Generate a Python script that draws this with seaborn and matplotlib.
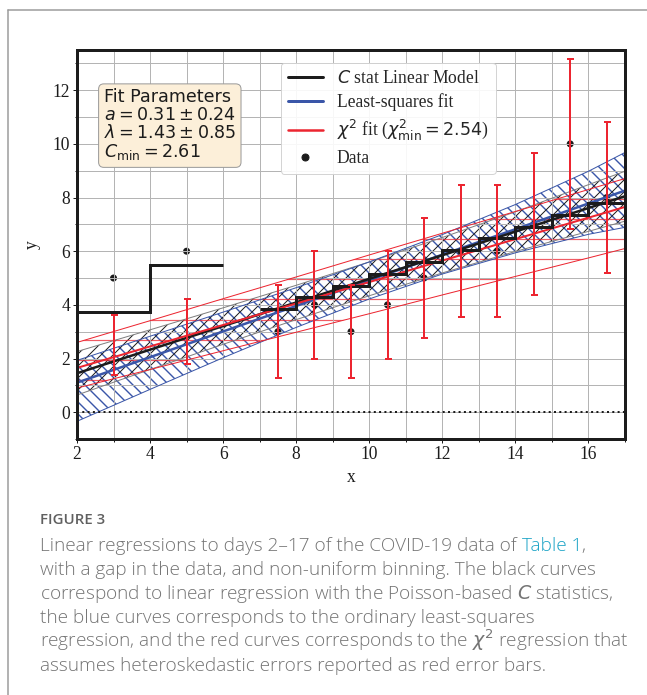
import numpy as np
import pandas as pd
import matplotlib.pyplot as plt
import seaborn as sns
from matplotlib.ticker import MultipleLocator

sns.set_theme(style="whitegrid")
plt.rcParams['font.family'] = ['Liberation Serif', 'DejaVu Serif']
plt.rcParams['mathtext.fontset'] = 'dejavusans'

# --------------------------------------------
# Data
# --------------------------------------------
bin_center = [3, 5, 7.5, 8.5, 9.5, 10.5, 11.5, 12.5, 13.5, 14.5, 15.5, 16.5]
counts = [5, 6, 3, 4, 3, 4, 5, 6, 6, 7, 10, 8]
# rates used by the chi2 fit, with their error bars
rate = [2.5, 3, 3, 4, 3, 4, 5, 6, 6, 7, 10, 8]
rate_err = [1.12, 1.22, 1.73, 2.0, 1.73, 2.0, 2.24, 2.45, 2.45, 2.65, 3.16, 2.83]

# C stat model, counts per bin (two groups: wide bins, then unit bins)
edges_wide = [2, 4, 6]
model_wide = [3.72, 5.48]
edges_unit = [7, 8, 9, 10, 11, 12, 13, 14, 15, 16, 17]
model_unit = [3.84, 4.28, 4.72, 5.16, 5.60, 6.04, 6.48, 6.92, 7.36, 7.80]

# fitted lines and their bands
xg = [2, 4, 6, 8, 10, 12, 14, 16, 17]
cstat_mid = [1.45, 2.33, 3.21, 4.09, 4.97, 5.85, 6.73, 7.61, 8.05]
cstat_hi = [2.26, 3.07, 3.89, 4.73, 5.60, 6.51, 7.47, 8.48, 8.98]
cstat_lo = [0.64, 1.59, 2.53, 3.45, 4.34, 5.19, 5.99, 6.74, 7.12]

ls_mid = [1.10, 2.05, 3.01, 3.96, 4.92, 5.87, 6.82, 7.78, 8.26]
ls_hi = [1.93, 2.83, 3.73, 4.64, 5.60, 6.62, 7.74, 8.98, 9.68]
ls_lo = [-0.34, 0.85, 2.03, 3.16, 4.22, 5.15, 5.94, 6.63, 6.89]

chi_mid = [1.65, 2.45, 3.25, 4.05, 4.85, 5.65, 6.45, 7.25, 7.65]
chi_hi = [2.60, 3.41, 4.23, 5.04, 5.86, 6.67, 7.48, 8.30, 8.71]
chi_lo = [0.90, 1.59, 2.29, 2.98, 3.67, 4.37, 5.06, 5.75, 6.10]

black = '#1c1c1c'
blue = '#3a56a8'
red = '#ec2530'

fig = plt.figure(figsize=(647 / 72, 695 / 72), dpi=72)
ax = fig.add_axes([77 / 647, 1 - 439 / 695, 548 / 647, 389 / 695])

# bands
with plt.rc_context({'hatch.linewidth': 1.0}):
    ax.fill_between(xg, cstat_lo, cstat_hi, facecolor='none', edgecolor=black,
                    hatch='//', linewidth=0, zorder=1.2)
with plt.rc_context({'hatch.linewidth': 1.4}):
    ax.fill_between(xg, ls_lo, ls_hi, facecolor='none', edgecolor=blue,
                    hatch='\\\\', linewidth=0, zorder=1.1)
chi_band = ax.fill_between(xg, chi_lo, chi_hi, facecolor='none',
                           edgecolor='none', linewidth=0)
band_path = chi_band.get_paths()[0]
for yy in np.arange(-0.3, 10, 0.75):
    hl = ax.axhline(yy, color=red, lw=1.2, alpha=0.75, zorder=1.3)
    hl.set_clip_path(band_path, ax.transData)

for lo, hi, c in [(cstat_lo, cstat_hi, '#808080'), (ls_lo, ls_hi, blue),
                  (chi_lo, chi_hi, red)]:
    ax.plot(xg, lo, color=c, lw=1, zorder=2.6)
    ax.plot(xg, hi, color=c, lw=1, zorder=2.6)

ax.axhline(0, color=black, ls=':', lw=2, zorder=2.7)

# central fits
sns.lineplot(x=xg, y=ls_mid, ax=ax, color=blue, lw=2.5, zorder=3)
sns.lineplot(x=xg, y=cstat_mid, ax=ax, color=black, lw=2.5, zorder=3.1)
sns.lineplot(x=xg, y=chi_mid, ax=ax, color=red, lw=2, zorder=3.2)
ax.stairs(model_wide, edges_wide, baseline=None, color=black, lw=3, zorder=3.3)
ax.stairs(model_unit, edges_unit, baseline=None, color=black, lw=3, zorder=3.3)

ax.errorbar(bin_center, rate, yerr=rate_err, fmt='none', ecolor=red,
            elinewidth=2, capsize=3.5, capthick=2, zorder=4)
sns.scatterplot(x=bin_center, y=counts, ax=ax, color=black, s=49,
                edgecolor='none', zorder=2)

# axes styling
ax.set_xlim(2, 17)
ax.set_ylim(-1, 13.5)
ax.xaxis.set_major_locator(MultipleLocator(2))
ax.xaxis.set_minor_locator(MultipleLocator(1))
ax.yaxis.set_major_locator(MultipleLocator(2))
ax.yaxis.set_minor_locator(MultipleLocator(1))
ax.grid(True, which='both', color='#b4b4b4', lw=1)
ax.set_axisbelow(False)
ax.tick_params(which='major', length=4, width=1, color=black, direction='out',
               labelsize=17.5, labelcolor=black, bottom=True, left=True, pad=3)
ax.tick_params(which='minor', length=2.5, width=1, color=black,
               direction='out', bottom=True, left=True)
for s in ax.spines.values():
    s.set_color(black)
    s.set_linewidth(3)
    s.set_zorder(5)
ax.set_xlabel('x', fontsize=17.5, color=black, labelpad=6)
ax.set_ylabel('y', fontsize=17.5, color=black, labelpad=12)

handles = [
    plt.Line2D([], [], color=black, lw=3),
    plt.Line2D([], [], color=blue, lw=3),
    plt.Line2D([], [], color=red, lw=2.5),
    plt.Line2D([], [], color=black, marker='o', ls='none', ms=7),
]
labels = ['$C$ stat Linear Model', 'Least-squares fit',
          r'$\chi^2$ fit ($\chi^2_{\rm min}=2.54$)', 'Data']
leg = ax.legend(handles, labels, loc='upper left', bbox_to_anchor=(0.372, 0.967),
                borderaxespad=0, fontsize=17.5, frameon=True, framealpha=0.9,
                edgecolor='#d0d0d0', fancybox=True, labelspacing=0.38)
leg.set_zorder(6)

ax.text(0.049, 0.902,
        'Fit Parameters\n$a=0.31\\pm0.24$\n$\\lambda=1.43\\pm0.85$\n$C_{\\rm min}=2.61$',
        transform=ax.transAxes, va='top', ha='left', fontsize=17.5,
        linespacing=1.0, family=['DejaVu Sans'], color=black, zorder=6,
        bbox=dict(boxstyle='round,pad=0.3', facecolor='#fcefd9',
                  edgecolor='#9a9a9a', lw=1))

# outer frame (left and top edges)
fig.add_artist(plt.Line2D([7.5 / 647, 7.5 / 647], [0, 1 - 10 / 695],
                          color='#9a9a9a', lw=1.5, transform=fig.transFigure))
fig.add_artist(plt.Line2D([7.5 / 647, 1], [1 - 10 / 695, 1 - 10 / 695],
                          color='#9a9a9a', lw=1.5, transform=fig.transFigure))

# caption
cap_font = ['Open Sans', 'DejaVu Sans']
cap_color = '#747474'
cap_size = 19
fig.text(40 / 647, 1 - 524 / 695, 'FIGURE 3', family=cap_font, fontsize=15,
         weight='semibold', color='#606060', va='baseline')
caption_lines = [
    'with a gap in the data, and non-uniform binning. The black curves',
    'correspond to linear regression with the Poisson-based $C$ statistics,',
    'the blue curves corresponds to the ordinary least-squares',
    r'regression, and the red curves corresponds to the $\chi^2$ regression that',
    'assumes heteroskedastic errors reported as red error bars.',
]
t1 = fig.text(40 / 647, 1 - 551 / 695,
              'Linear regressions to days 2\u201317 of the COVID-19 data of ',
              family=cap_font, fontsize=cap_size, weight='light',
              color=cap_color, va='baseline')
t2 = fig.text(0, 0, 'Table 1', family=cap_font, fontsize=cap_size,
              weight='light', color='#1aa3c6')
t3 = fig.text(0, 0, ',', family=cap_font, fontsize=cap_size, weight='light',
              color=cap_color)
fig.canvas.draw()
r = fig.canvas.get_renderer()
bb = t1.get_window_extent(r)
t2.set_position((bb.x1 / fig.bbox.width, 1 - 551 / 695))
t2.set_va('baseline')
bb2 = t2.get_window_extent(r)
t3.set_position((bb2.x1 / fig.bbox.width, 1 - 551 / 695))
t3.set_va('baseline')
for i, line in enumerate(caption_lines):
    fig.text(40 / 647, 1 - (575 + 24 * i) / 695, line, family=cap_font,
             fontsize=cap_size, weight='light', color=cap_color, va='baseline')

fig.savefig('out.png', dpi=72, facecolor='white')
